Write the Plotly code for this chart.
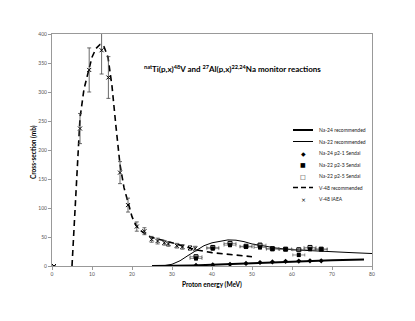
import plotly.graph_objects as go

# V-48 recommended curve
v48RecE = [5, 5.5, 6, 6.5, 7, 8, 9, 10, 11, 12, 12.5, 13, 14, 15, 16, 17, 18, 19, 20, 21, 22, 24, 26, 28, 30, 33, 36, 40, 45, 50]
v48RecXs = [0, 60, 140, 200, 255, 305, 335, 360, 375, 382, 382, 378, 360, 310, 240, 175, 135, 108, 85, 70, 62, 52, 47, 44, 40, 34, 28, 23, 19, 16]

# V-48 IAEA data
v48E = [0.5, 7, 9.3, 12.4, 14.1, 17, 19, 21.2, 23.1, 24.9, 26.4, 28.1, 29.1, 31.2, 32.6, 34.5, 35.8]
v48Xs = [0, 237, 338, 372, 325, 161, 105, 68, 60, 46, 43, 40, 38, 35, 33, 31, 30]
v48Err = [0, 26, 38, 41, 36, 19, 12, 8, 6, 5, 5, 4, 4, 4, 4, 4, 4]

# Na-22 recommended curve
na22RecE = [25, 28, 30, 32, 34, 36, 38, 40, 42, 44, 46, 48, 50, 53, 56, 60, 65, 70, 75, 80]
na22RecXs = [0, 0.5, 3, 9, 18, 27, 35, 40, 43, 45, 44.5, 42, 38, 34, 31, 28, 26, 24.5, 23, 21.5]

# Na-24 recommended curve
na24RecE = [25, 30, 35, 40, 45, 50, 55, 60, 65, 70, 78]
na24RecXs = [0, 0.2, 1, 2, 3.5, 5, 6.5, 8, 9, 10, 11]

# Sendai data
sendaiE = [36, 40.2, 44.5, 48.5, 52, 55.1, 58.4, 61.7, 64.5, 67.3]
na24Xs = [1, 2, 3, 4.5, 6, 7, 8, 8.5, 9, 9]
na22p23Xs = [13, 30, 36, 33, 32, 29, 29, 19, 29, 29]
na22p25Xs = [16, 32, 39, 34, 36, 30, 29, 28, 32, 29]
eErr = 1.5
xsErr = 3

legendNames = ["Na-24 recommended", "Na-22 recommended", "Na-24 p2-1 Sendai", "Na-22 p2-3 Sendai",
               "Na-22 p2-5 Sendai", "V-48 recommended", "V-48 IAEA"]

fig = go.Figure()
fig.add_trace(go.Scatter(x=na24RecE, y=na24RecXs, mode="lines", line=dict(color="black", width=2)))
fig.add_trace(go.Scatter(x=na22RecE, y=na22RecXs, mode="lines", line=dict(color="black", width=1)))
fig.add_trace(go.Scatter(x=v48RecE, y=v48RecXs, mode="lines", line=dict(color="black", width=1.6, dash="6px,4px")))
fig.add_trace(go.Scatter(x=v48E, y=v48Xs, mode="markers",
                         marker=dict(symbol="x-thin", size=4, line=dict(color="black", width=1)),
                         error_y=dict(type="data", array=v48Err, color="#444", thickness=0.8, width=2)))
fig.add_trace(go.Scatter(x=sendaiE, y=na22p25Xs, mode="markers",
                         marker=dict(symbol="square-open", size=4, color="black", line=dict(width=1)),
                         error_x=dict(type="constant", value=eErr, color="#444", thickness=0.6, width=1.5),
                         error_y=dict(type="constant", value=xsErr, color="#444", thickness=0.6, width=1.5)))
fig.add_trace(go.Scatter(x=sendaiE, y=na22p23Xs, mode="markers",
                         marker=dict(symbol="square", size=4, color="black"),
                         error_x=dict(type="constant", value=eErr, color="#444", thickness=0.6, width=1.5),
                         error_y=dict(type="constant", value=xsErr, color="#444", thickness=0.6, width=1.5)))
fig.add_trace(go.Scatter(x=sendaiE, y=na24Xs, mode="markers",
                         marker=dict(symbol="diamond", size=4, color="black")))

# hand-made compact legend (positions in page pixels of the plot box)
def px(x): return (x - 52) / 320
def py(y): return (266 - y) / 232

legendY = [130, 141.5, 153, 164.5, 176, 187.5, 199]
keys = ["thick", "thin", "◆", "■", "□", "dash", "×"]
for name, ly, key in zip(legendNames, legendY, keys):
    if key in ("thick", "thin", "dash"):
        fig.add_shape(type="line", xref="paper", yref="paper", x0=px(293), x1=px(313), y0=py(ly), y1=py(ly),
                      line=dict(color="black", width=2 if key == "thick" else (1 if key == "thin" else 1.6),
                                dash="5px,3px" if key == "dash" else "solid"))
    else:
        fig.add_annotation(x=px(303), y=py(ly), xref="paper", yref="paper", text=key, showarrow=False,
                           font=dict(size=6, color="black", family="DejaVu Sans"), xanchor="center", yanchor="middle")
    fig.add_annotation(x=px(317), y=py(ly), xref="paper", yref="paper", text=name, showarrow=False,
                       font=dict(size=5, color="#222", family="Lato"), xanchor="left", yanchor="middle")

fig.add_annotation(x=px(232), y=py(68), xref="paper", yref="paper", showarrow=False,
                   text="<b><sup>nat</sup>Ti(p,x)<sup>48</sup>V and <sup>27</sup>Al(p,x)<sup>22,24</sup>Na monitor reactions</b>",
                   font=dict(size=8, color="black", family="Lato"), xanchor="center", yanchor="middle")
fig.add_annotation(x=px(212), y=py(284), xref="paper", yref="paper", showarrow=False,
                   xanchor="center", yanchor="middle",
                   text="<b>Proton energy (MeV)</b>", font=dict(size=6.5, color="black", family="Lato"))
fig.add_annotation(x=px(33), y=py(152), xref="paper", yref="paper", showarrow=False, textangle=-90,
                   xanchor="center", yanchor="middle",
                   text="<b>Cross-section (mb)</b>", font=dict(size=6.5, color="black", family="Lato"))

# page body adds 8px margin, so the figure is shrunk and shifted by that
fig.update_layout(
    width=407, height=313,
    margin=dict(l=44, r=43, t=26, b=55),
    paper_bgcolor="white", plot_bgcolor="white",
    showlegend=False,
    font=dict(family="Lato", size=5, color="#555"),
)
fig.update_xaxes(range=[0, 80], dtick=10, showgrid=False, zeroline=False, showline=True, linecolor="#999",
                 linewidth=1, mirror=True, ticks="outside", ticklen=3, tickcolor="#999", tickfont=dict(size=5))
fig.update_yaxes(range=[0, 400], dtick=50, showgrid=False, zeroline=False, showline=True, linecolor="#999",
                 linewidth=1, mirror=True, ticks="outside", ticklen=3, tickcolor="#999", tickfont=dict(size=5))

fig.write_html("out.html")
